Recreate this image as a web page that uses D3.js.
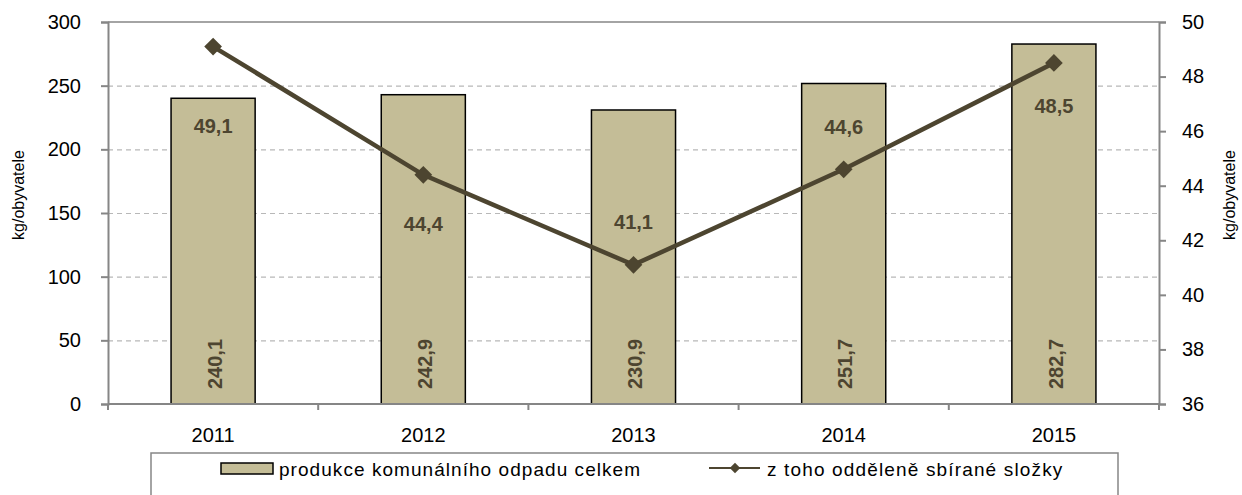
<!DOCTYPE html>
<html>
<head>
<meta charset="utf-8">
<script src="https://cdn.jsdelivr.net/npm/d3@7"></script>
<style>
  body { margin: 0; background: #fff; }
  svg { display: block; font-family: "Liberation Sans", Arial, sans-serif; }
</style>
</head>
<body>
<script>
var years = ["2011", "2012", "2013", "2014", "2015"];
var total = [240.1, 242.9, 230.9, 251.7, 282.7];
var separated = [49.1, 44.4, 41.1, 44.6, 48.5];
var leftTicks = [0, 50, 100, 150, 200, 250, 300];
var rightTicks = [36, 38, 40, 42, 44, 46, 48, 50];
// label offsets (px) from the line point, as placed in the original
var lineLabelDy = [79, 49, -43, -43, 43];

var W = 1242, H = 495;
var m = { left: 108, right: 1159, top: 22, bottom: 404 };
var dark = "#4d4530", barFill = "#c4bd97", axisGray = "#868686";
var fmt = function (v) { return v.toFixed(1).replace(".", ","); };

var svg = d3.select("body").append("svg").attr("width", W).attr("height", H);

var x = d3.scaleBand().domain(years).range([m.left, m.right]).paddingInner(0.6).paddingOuter(0.3);
var xb = d3.scaleBand().domain(years).range([m.left, m.right]);
var yL = d3.scaleLinear().domain([0, 300]).range([m.bottom, m.top]);
var yR = d3.scaleLinear().domain([36, 50]).range([m.bottom, m.top]);

// gridlines
svg.append("g").selectAll("line").data(leftTicks.filter(function (t) { return t > 0 && t < 300; }))
  .join("line")
  .attr("x1", m.left).attr("x2", m.right)
  .attr("y1", function (d) { return yL(d) + 0.5; }).attr("y2", function (d) { return yL(d) + 0.5; })
  .attr("stroke", "#b8b8b8").attr("stroke-width", 1.2).attr("stroke-dasharray", "5,4");
svg.append("line").attr("x1", m.left).attr("x2", m.right).attr("y1", yL(300)).attr("y2", yL(300))
  .attr("stroke", axisGray).attr("stroke-width", 1.5);

// bars
svg.append("g").selectAll("rect").data(total).join("rect")
  .attr("x", function (d, i) { return x(years[i]); })
  .attr("width", x.bandwidth())
  .attr("y", function (d) { return yL(d); })
  .attr("height", function (d) { return yL(0) - yL(d); })
  .attr("fill", barFill).attr("stroke", "#000").attr("stroke-width", 1.5);

// axes
var axL = svg.append("g").attr("transform", "translate(" + m.left + ",0)")
  .call(d3.axisLeft(yL).tickValues(leftTicks).tickSize(7).tickPadding(20).tickFormat(d3.format("d")));
var axR = svg.append("g").attr("transform", "translate(" + m.right + ",0)")
  .call(d3.axisRight(yR).tickValues(rightTicks).tickSize(7).tickPadding(16).tickFormat(d3.format("d")));
var axB = svg.append("g").attr("transform", "translate(0," + m.bottom + ")")
  .call(d3.axisBottom(xb).tickSize(0).tickPadding(24));
axB.selectAll(".tick").append("line")
  .attr("x1", -xb.bandwidth() / 2).attr("x2", -xb.bandwidth() / 2).attr("y1", 0).attr("y2", 6);
axB.append("line").attr("x1", m.right).attr("x2", m.right).attr("y1", 0).attr("y2", 6);
[axL, axR, axB].forEach(function (a) {
  a.attr("font-family", null).attr("font-size", null);
  a.selectAll("path").attr("stroke", axisGray).attr("stroke-width", 2);
  a.selectAll("line").attr("stroke", axisGray).attr("stroke-width", 2);
  a.selectAll("text").attr("fill", "#000").style("font-size", "20px");
});
axB.select(".domain").attr("d", "M" + m.left + ",0H" + m.right);

// axis titles
svg.append("text").attr("transform", "translate(24,195) rotate(-90)")
  .attr("text-anchor", "middle").style("font-size", "16px").text("kg/obyvatele");
svg.append("text").attr("transform", "translate(1235,195) rotate(-90)")
  .attr("text-anchor", "middle").style("font-size", "16px").text("kg/obyvatele");

// bar value labels
svg.append("g").selectAll("text").data(total).join("text")
  .attr("transform", function (d, i) {
    return "translate(" + (xb(years[i]) + xb.bandwidth() / 2 + 1.5) + "," + (yL(0) - 40) + ") rotate(-90)";
  })
  .attr("text-anchor", "middle").attr("dy", "0.36em")
  .attr("fill", dark).style("font-size", "20px").style("font-weight", "bold")
  .text(fmt);

// line
var cx = function (i) { return xb(years[i]) + xb.bandwidth() / 2; };
svg.append("path").datum(separated)
  .attr("d", d3.line().x(function (d, i) { return cx(i); }).y(function (d) { return yR(d); }))
  .attr("fill", "none").attr("stroke", dark).attr("stroke-width", 4.5);
svg.append("g").selectAll("path").data(separated).join("path")
  .attr("transform", function (d, i) { return "translate(" + cx(i) + "," + yR(d) + ")"; })
  .attr("d", d3.symbol().type(d3.symbolDiamond2).size(200))
  .attr("fill", dark);
svg.append("g").selectAll("text").data(separated).join("text")
  .attr("x", function (d, i) { return cx(i); })
  .attr("y", function (d, i) { return yR(d) + lineLabelDy[i]; })
  .attr("dy", "0.36em").attr("text-anchor", "middle")
  .attr("fill", dark).style("font-size", "20px").style("font-weight", "bold")
  .text(fmt);

// legend
var lg = svg.append("g");
lg.append("rect").attr("x", 151).attr("y", 453).attr("width", 967).attr("height", 60)
  .attr("fill", "#fff").attr("stroke", axisGray).attr("stroke-width", 1.5);
lg.append("rect").attr("x", 221).attr("y", 463).attr("width", 52).attr("height", 11)
  .attr("fill", barFill).attr("stroke", "#000").attr("stroke-width", 1.5);
lg.append("text").attr("x", 279).attr("y", 476).style("font-size", "19px").style("letter-spacing", "1.05px")
  .text("produkce komunálního odpadu celkem");
lg.append("line").attr("x1", 709).attr("x2", 760).attr("y1", 468).attr("y2", 468)
  .attr("stroke", dark).attr("stroke-width", 2);
lg.append("path").attr("transform", "translate(735,468)")
  .attr("d", d3.symbol().type(d3.symbolDiamond2).size(70)).attr("fill", dark);
lg.append("text").attr("x", 767).attr("y", 476).style("font-size", "19px").style("letter-spacing", "1.15px")
  .text("z toho odděleně sbírané složky");
</script>
</body>
</html>
